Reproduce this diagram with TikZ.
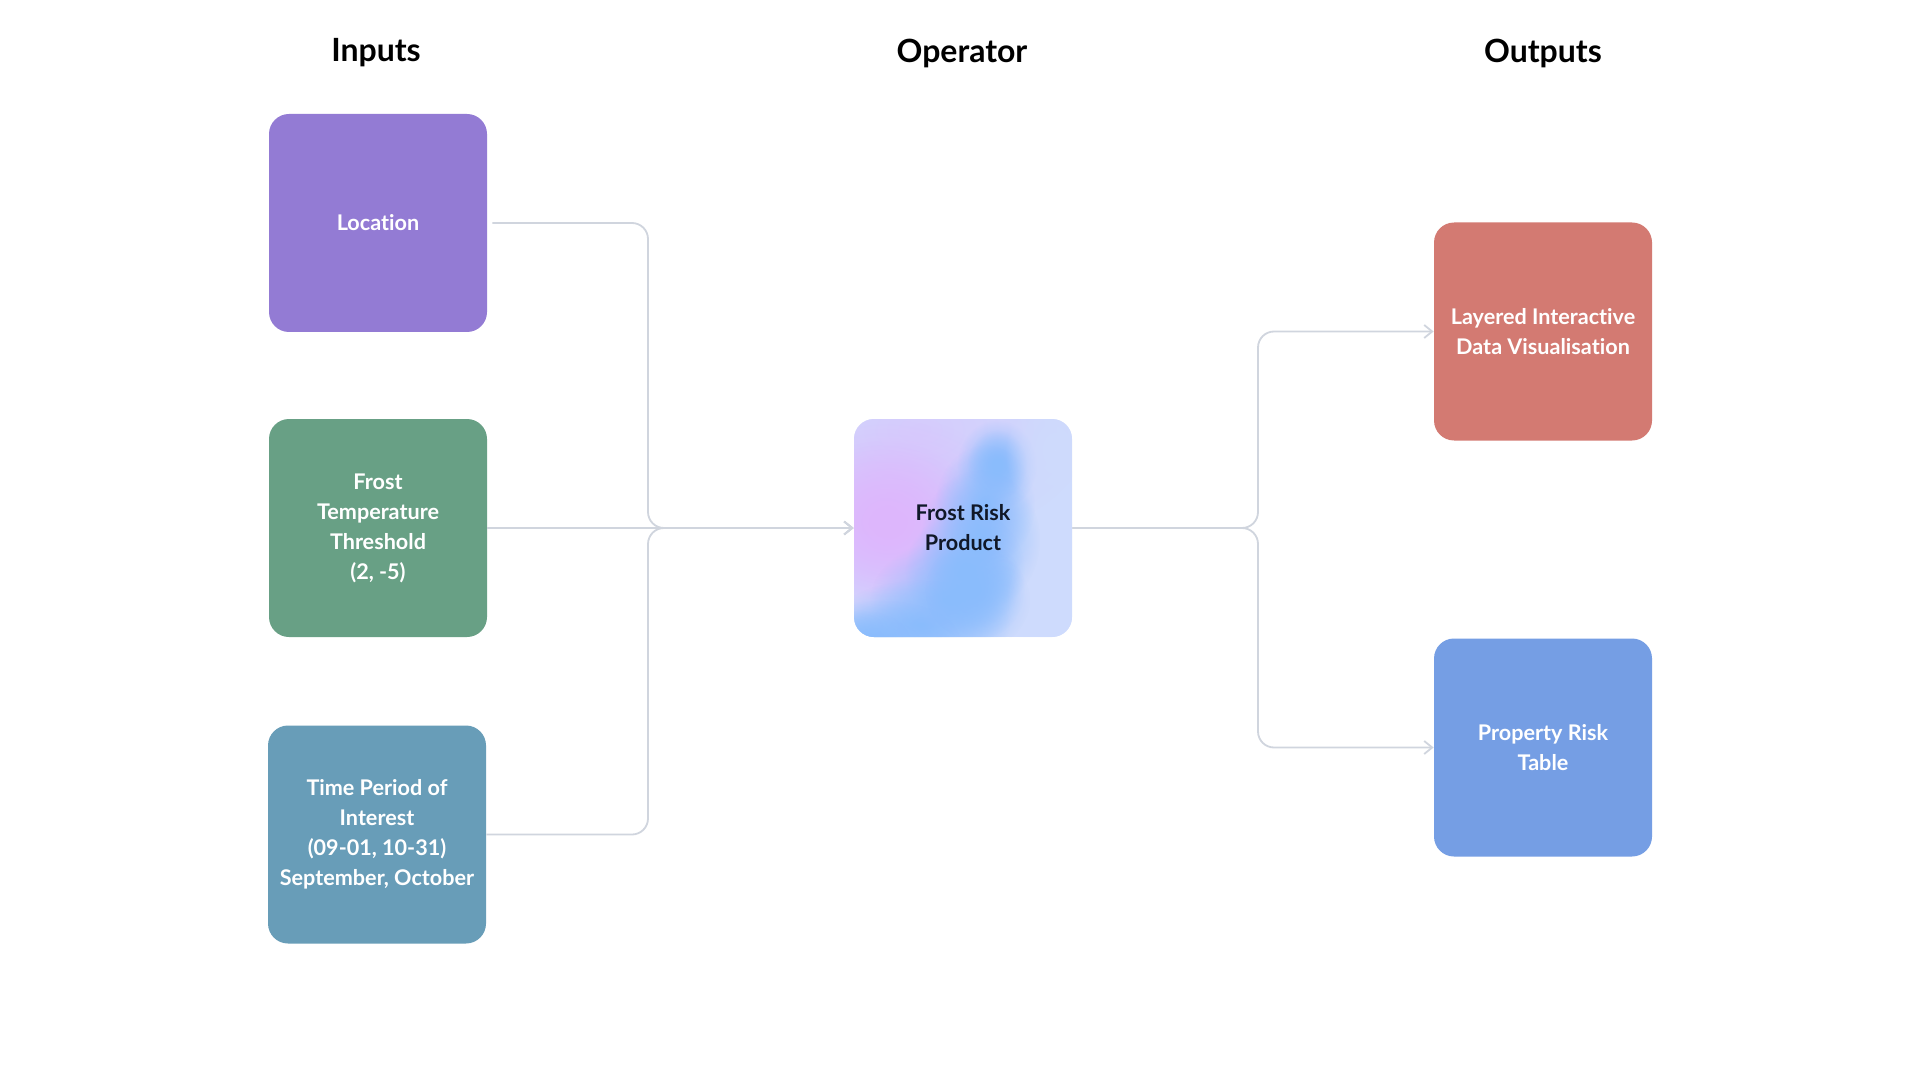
\documentclass[tikz,border=0pt]{standalone}
\usepackage{fontspec}
\setmainfont{Lato}[Ligatures=NoCommon]
\usetikzlibrary{arrows.meta,fadings}
\definecolor{cloc}{RGB}{147,123,212}
\definecolor{cthr}{RGB}{104,160,133}
\definecolor{ctime}{RGB}{104,157,184}
\definecolor{cred}{RGB}{211,122,114}
\definecolor{cblue}{RGB}{117,158,228}
\definecolor{cline}{RGB}{208,213,222}
\definecolor{cdark}{RGB}{16,24,40}
\definecolor{gbase}{RGB}{206,219,253}
\definecolor{glav}{RGB}{214,204,252}
\definecolor{gpink}{RGB}{222,182,253}
\definecolor{gblue}{RGB}{138,188,252}
\tikzfading[name=softdisc, inner color=transparent!0, outer color=transparent!100]
\begin{document}
\begin{tikzpicture}[x=0.5pt,y=-0.5pt,
  box/.style={minimum width=109pt, minimum height=109pt, rounded corners=10pt,
    align=center, text=white, inner sep=0pt,
    font=\bfseries\fontsize{10.8}{15}\selectfont},
  title/.style={font=\bfseries\fontsize{16}{18}\selectfont, text=black},
  conn/.style={draw=cline, line width=0.9pt, rounded corners=8pt,
    -{Straight Barb[length=4pt,width=6.5pt,line width=0.9pt]}},
  blob/.style={path fading=softdisc}]
\useasboundingbox (0,0) rectangle (1920,1080);
\fill[white] (0,0) rectangle (1920,1080);

% titles
\node[title] (tin) at (376,53) {Inputs};
\node[title] (top) at (962,53) {Operator};
\node[title] (tout) at (1543,53) {Outputs};

% gradient operator box
\begin{scope}
  \clip[rounded corners=10pt] (854,419) rectangle (1072,637);
  \fill[gbase] (854,419) rectangle (1072,637);
  \fill[glav, blob] (920,430) ellipse [x radius=170, y radius=110];
  \fill[gpink, blob] (890,525) ellipse [x radius=130, y radius=110];
  \fill[gpink, blob] (885,520) ellipse [x radius=90, y radius=80];
  \fill[gblue, blob] (997,465) ellipse [x radius=40, y radius=45];
  \fill[gblue, blob] (997,465) ellipse [x radius=30, y radius=35];
  \fill[gblue, blob] (985,505) ellipse [x radius=50, y radius=60];
  \fill[gblue, blob] (980,540) ellipse [x radius=60, y radius=70];
  \fill[gblue, blob] (965,570) ellipse [x radius=60, y radius=60];
  \fill[gblue, blob] (950,600) ellipse [x radius=80, y radius=60];
  \fill[gblue, blob] (920,625) ellipse [x radius=90, y radius=45];
  \fill[gblue, blob] (880,640) ellipse [x radius=80, y radius=40];
  \fill[gblue, blob] (860,640) ellipse [x radius=50, y radius=30];
  \fill[gblue, blob] (975,590) ellipse [x radius=50, y radius=50];
  \fill[gbase, blob] (1065,610) ellipse [x radius=60, y radius=90];
  \fill[gbase, blob] (1055,450) ellipse [x radius=50, y radius=70];
  \fill[gbase, blob] (1070,530) ellipse [x radius=30, y radius=60];
\end{scope}

% boxes
\node[box, fill=cloc] (loc) at (378,223) {Location};
\node[box, fill=cthr] (thr) at (378,528) {Frost\\Temperature\\Threshold\\(2, -5)};
\node[box, fill=ctime] (time) at (377,834.5) {Time Period of\\Interest\\(09-01, 10-31)\\September, October};
\node[box, text=cdark] (frp) at (963,528) {Frost Risk\\Product};
\node[box, fill=cred] (viz) at (1543,331.5) {Layered Interactive\\Data Visualisation};
\node[box, fill=cblue] (tab) at (1543,747.5) {Property Risk\\Table};

% junctions
\coordinate (jl) at (648,528);
\coordinate (jr) at (1258,528);

% connectors
\draw[conn, shorten <=2.5pt] (loc.east) -| (jl) -- (frp.west);
\draw[conn] (time.east) -| (jl) -- (frp.west);
\draw[conn] (thr.east) -- (frp.west);
\draw[conn] (frp.east) -- (jr) |- (viz.west);
\draw[conn] (frp.east) -- (jr) |- (tab.west);
\end{tikzpicture}
\end{document}
